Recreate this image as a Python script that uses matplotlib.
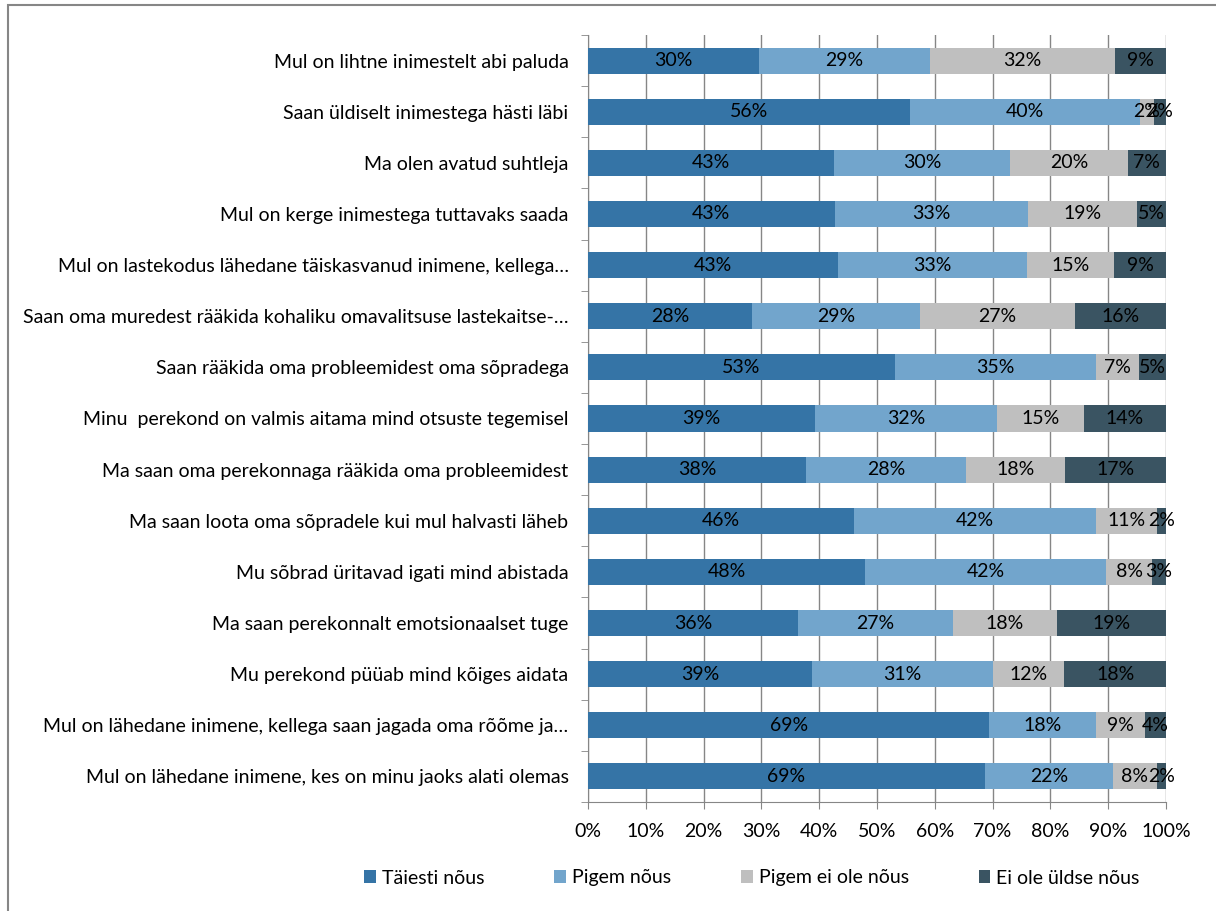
import numpy as np
import matplotlib.pyplot as plt
from matplotlib.patches import Rectangle

plt.rcParams['font.family'] = ['Lato', 'DejaVu Sans']

kategooriad = [
    "Mul on lihtne inimestelt abi paluda",
    "Saan üldiselt inimestega hästi läbi",
    "Ma olen avatud suhtleja",
    "Mul on kerge inimestega tuttavaks saada",
    "Mul on lastekodus lähedane täiskasvanud inimene, kellega…",
    "Saan oma muredest rääkida kohaliku omavalitsuse lastekaitse-…",
    "Saan rääkida oma probleemidest oma sõpradega",
    "Minu  perekond on valmis aitama mind otsuste tegemisel",
    "Ma saan oma perekonnaga rääkida oma probleemidest",
    "Ma saan loota oma sõpradele kui mul halvasti läheb",
    "Mu sõbrad üritavad igati mind abistada",
    "Ma saan perekonnalt emotsionaalset tuge",
    "Mu perekond püüab mind kõiges aidata",
    "Mul on lähedane inimene, kellega saan jagada oma rõõme ja…",
    "Mul on lähedane inimene, kes on minu jaoks alati olemas",
]

seeriad = ["Täiesti nõus", "Pigem nõus", "Pigem ei ole nõus", "Ei ole üldse nõus"]

taiesti = [29.6, 55.7, 42.6, 42.7, 43.3, 28.4, 53.1, 39.3, 37.7, 46.0, 47.9, 36.3, 38.8, 69.4, 68.7]
pigem = [29.6, 39.8, 30.4, 33.4, 32.7, 29.0, 34.8, 31.5, 27.7, 41.9, 41.7, 26.8, 31.3, 18.5, 22.1]
pigem_ei = [32.0, 2.4, 20.4, 18.9, 15.0, 26.9, 7.4, 15.0, 17.1, 10.5, 8.0, 18.0, 12.3, 8.5, 7.6]
ei_ole = [8.8, 2.1, 6.6, 5.0, 9.0, 15.7, 4.7, 14.2, 17.5, 1.6, 2.4, 18.9, 17.6, 3.6, 1.6]

# sildid nagu pildil
sildid = [
    ["30%", "56%", "43%", "43%", "43%", "28%", "53%", "39%", "38%", "46%", "48%", "36%", "39%", "69%", "69%"],
    ["29%", "40%", "30%", "33%", "33%", "29%", "35%", "32%", "28%", "42%", "42%", "27%", "31%", "18%", "22%"],
    ["32%", "2%", "20%", "19%", "15%", "27%", "7%", "15%", "18%", "11%", "8%", "18%", "12%", "9%", "8%"],
    ["9%", "2%", "7%", "5%", "9%", "16%", "5%", "14%", "17%", "2%", "3%", "19%", "18%", "4%", "2%"],
]

varvid = ['#3574A6', '#72A5CC', '#BFBFBF', '#3A5462']
fs = 14

fig = plt.figure(figsize=(12.16, 9.11), dpi=100)
ax = fig.add_axes([588/1216, 1 - 802/911, 578/1216, (802-35)/911])

y = np.arange(len(kategooriad))
vasak = np.zeros(len(kategooriad))
andmed = [taiesti, pigem, pigem_ei, ei_ole]
for i in range(4):
    v = np.array(andmed[i])
    ax.barh(y, v, left=vasak, height=0.51, color=varvid[i], label=seeriad[i], zorder=3)
    for j in range(len(y)):
        ax.text(vasak[j] + v[j]/2, y[j], sildid[i][j], ha='center', va='center',
                fontsize=fs, color='black', zorder=4)
    vasak = vasak + v

ax.set_xlim(0, 100)
ax.set_ylim(len(kategooriad) - 0.5, -0.5)
ax.set_xticks(np.arange(0, 101, 10))
ax.set_xticklabels([str(t) + "%" for t in range(0, 101, 10)], fontsize=fs)
ax.set_yticks(y)
ax.set_yticklabels(kategooriad, fontsize=fs)
ax.set_yticks(np.arange(-0.5, len(kategooriad)), minor=True)
ax.tick_params(axis='y', which='major', length=0, pad=14)
ax.tick_params(axis='y', which='minor', length=5, color='#868686', direction='out')
ax.tick_params(axis='x', length=5, color='#868686', pad=10)
ax.grid(axis='x', color='#868686', linewidth=1, zorder=0)
for s in ['top', 'right']:
    ax.spines[s].set_visible(False)
for s in ['left', 'bottom']:
    ax.spines[s].set_color('#868686')

fig.legend(loc='center', bbox_to_anchor=(752/1216, 1 - 878/911), ncol=4, frameon=False,
           fontsize=fs, handlelength=0.6, handleheight=0.6, handletextpad=0.3,
           columnspacing=3.6)

fig.patches.append(Rectangle((8/1216, -0.1), 1.2, 1.1 - 5/911, transform=fig.transFigure,
                             fill=False, edgecolor='#868686', linewidth=1.5))

fig.savefig("out.png", dpi=100)
